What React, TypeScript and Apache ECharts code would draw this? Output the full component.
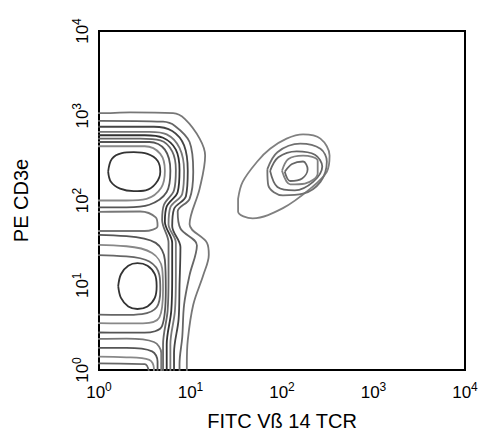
import React, { useEffect, useRef } from "react";
import * as echarts from "echarts";

const FONT = "'Liberation Sans', Arial, Helvetica, sans-serif";

// axis decades (log10 units)
const xDecades = [0, 1, 2, 3, 4];
const yDecades = [0, 1, 2, 3, 4];
const xTitle = "FITC Vß 14 TCR";
const yTitle = "PE CD3e";

// contour lines, points in [log10 FITC, log10 PE]
const L1 = [[-0.4,-0.2],[0.96,-0.2],[0.96,0.07],[0.97,0.35],[1.03,0.77],[1.14,1.12],[1.2,1.36],[1.18,1.5],[0.99,1.72],[1.10,2.14],[1.16,2.53],[1.10,2.73],[0.94,2.96],[0.81,3.03],[0.34,3.04],[0.01,3.03],[-0.4,3.03]];
const L2 = [[-0.4,-0.2],[0.88,-0.2],[0.88,0.07],[0.91,0.39],[0.93,0.77],[0.99,1.12],[1.07,1.47],[0.89,1.67],[0.86,1.87],[0.99,2.02],[1.03,2.34],[0.99,2.69],[0.83,2.88],[0.70,2.93],[0.01,2.94],[-0.4,2.94]];
const L3 = [[-0.4,-0.2],[0.82,-0.2],[0.82,0.2],[0.87,0.6],[0.88,1.0],[0.89,1.45],[0.80,1.70],[0.82,1.90],[0.95,2.05],[0.97,2.35],[0.93,2.65],[0.80,2.82],[0.60,2.87],[-0.4,2.87]];
const L4 = [[-0.4,-0.2],[0.78,-0.2],[0.78,0.3],[0.83,0.7],[0.84,1.1],[0.84,1.5],[0.76,1.72],[0.78,1.92],[0.91,2.08],[0.93,2.35],[0.88,2.62],[0.74,2.78],[0.55,2.81],[-0.4,2.81]];
const L5 = [[-0.4,-0.2],[0.74,-0.2],[0.74,0.3],[0.79,0.7],[0.80,1.1],[0.80,1.5],[0.72,1.75],[0.74,1.93],[0.86,2.1],[0.88,2.36],[0.84,2.6],[0.70,2.74],[0.50,2.77],[-0.4,2.77]];
const L6 = [[-0.4,-0.2],[0.70,-0.2],[0.70,0.3],[0.75,0.7],[0.76,1.1],[0.76,1.5],[0.69,1.77],[0.71,1.95],[0.82,2.12],[0.84,2.36],[0.80,2.58],[0.67,2.71],[0.45,2.73],[-0.4,2.73]];
const A1 = [[-0.4,2.69],[0.55,2.69],[0.72,2.6],[0.78,2.35],[0.74,2.1],[0.55,1.95],[0.3,1.92],[-0.4,1.92]];
const A2 = [[-0.4,2.64],[0.5,2.64],[0.67,2.55],[0.72,2.35],[0.68,2.15],[0.52,2.02],[0.3,2.0],[-0.4,2.0]];
const A3 = [[0.10,2.34],[0.14,2.49],[0.25,2.56],[0.38,2.57],[0.53,2.55],[0.64,2.47],[0.67,2.34],[0.62,2.20],[0.51,2.12],[0.38,2.11],[0.23,2.14],[0.13,2.22],[0.10,2.34]];
const M1 = [[-0.4,1.86],[0.45,1.87],[0.62,1.8],[0.64,1.7],[0.5,1.64],[-0.4,1.64]];
const B1 = [[-0.4,1.60],[0.3,1.58],[0.62,1.50],[0.72,1.3],[0.73,0.95],[0.69,0.52],[0.5,0.44],[0.25,0.44],[-0.4,0.45]];
const B2 = [[-0.4,1.48],[0.3,1.46],[0.58,1.38],[0.69,1.2],[0.70,0.95],[0.66,0.62],[0.48,0.55],[0.25,0.55],[-0.4,0.56]];
const B3 = [[-0.4,1.36],[0.3,1.34],[0.55,1.28],[0.66,1.12],[0.67,0.95],[0.63,0.74],[0.47,0.66],[0.25,0.65],[-0.4,0.66]];
const B4 = [[0.21,0.99],[0.24,1.13],[0.32,1.23],[0.42,1.26],[0.53,1.23],[0.61,1.13],[0.63,0.99],[0.61,0.85],[0.53,0.75],[0.42,0.72],[0.32,0.75],[0.24,0.85],[0.21,0.99]];
const C1 = [[-0.4,0.36],[0.3,0.37],[0.6,0.33],[0.68,0.2],[0.68,-0.2],[-0.4,-0.2]];
const C2 = [[-0.4,0.26],[0.3,0.26],[0.58,0.22],[0.64,0.1],[0.64,-0.2],[-0.4,-0.2]];
const C3 = [[-0.4,0.16],[0.3,0.15],[0.55,0.12],[0.6,0.02],[0.6,-0.2],[-0.4,-0.2]];
const C4 = [[-0.4,0.08],[0.5,0.07],[0.56,-0.2],[-0.4,-0.2]];
const R1 = [[1.52,2.02],[1.57,2.22],[1.73,2.46],[1.87,2.61],[2.05,2.73],[2.23,2.78],[2.42,2.73],[2.52,2.53],[2.49,2.34],[2.31,2.14],[2.01,1.91],[1.68,1.79],[1.52,1.87],[1.52,2.02]];
const R2 = [[1.84,2.37],[1.95,2.57],[2.20,2.67],[2.42,2.61],[2.49,2.46],[2.42,2.22],[2.23,2.08],[2.01,2.06],[1.85,2.18],[1.84,2.37]];
const R3 = [[1.87,2.35],[1.96,2.51],[2.16,2.58],[2.36,2.54],[2.44,2.40],[2.34,2.22],[2.14,2.12],[1.95,2.16],[1.87,2.35]];
const R4 = [[2.0,2.35],[2.07,2.49],[2.23,2.53],[2.39,2.47],[2.39,2.32],[2.25,2.20],[2.09,2.19],[2.0,2.35]];
const R5 = [[2.03,2.34],[2.11,2.43],[2.23,2.46],[2.28,2.37],[2.22,2.26],[2.09,2.23],[2.03,2.34]];

const contours: [number[][], string][] = [
  [L1, "#777"], [L2, "#666"], [L3, "#444"], [L4, "#777"], [L5, "#333"], [L6, "#666"],
  [A1, "#555"], [A2, "#888"], [A3, "#333"], [M1, "#777"],
  [B1, "#555"], [B2, "#888"], [B3, "#666"], [B4, "#333"],
  [C1, "#777"], [C2, "#555"], [C3, "#888"], [C4, "#666"],
  [R1, "#808080"], [R2, "#707070"], [R3, "#666"], [R4, "#808080"], [R5, "#666"],
];

export default function App() {
  const ref = useRef<HTMLDivElement>(null);
  useEffect(() => {
    if (!ref.current) return;
    const chart = echarts.init(ref.current, undefined, { renderer: "svg" });
    const rich = {
      b: { fontSize: 17, fontFamily: FONT, color: "#000", lineHeight: 22 },
      s: { fontSize: 12, fontFamily: FONT, color: "#000", lineHeight: 12, verticalAlign: "top" },
    };
    const fmt = (v: number) => `{b|10}{s|${Math.round(v)}}`;
    chart.setOption({
      animation: false,
      backgroundColor: "#fff",
      grid: { left: 99, right: 19, top: 31, bottom: 63, show: true, borderColor: "#000", borderWidth: 2, backgroundColor: "transparent" },
      xAxis: {
        type: "value", min: xDecades[0], max: xDecades[xDecades.length - 1], interval: 1,
        axisLine: { show: false }, axisTick: { show: false }, splitLine: { show: false },
        axisLabel: { formatter: fmt, margin: 11, fontSize: 17, fontFamily: FONT, rich, showMinLabel: true, showMaxLabel: true },
        name: xTitle, nameLocation: "middle", nameGap: 41,
        nameTextStyle: { fontSize: 20, fontFamily: FONT, color: "#000" },
      },
      yAxis: {
        type: "value", min: yDecades[0], max: yDecades[yDecades.length - 1], interval: 1,
        axisLine: { show: false }, axisTick: { show: false }, splitLine: { show: false },
        axisLabel: { formatter: fmt, margin: 6, rotate: 90, fontSize: 17, fontFamily: FONT, rich, showMinLabel: true, showMaxLabel: true },
        name: yTitle, nameLocation: "middle", nameGap: 68,
        nameTextStyle: { fontSize: 20, fontFamily: FONT, color: "#000" },
      },
      series: contours.map(([d, c]) => ({
        type: "line", data: d, symbol: "none", smooth: 0.35, clip: true,
        lineStyle: { color: c, width: 1.8 }, silent: true,
      })),
    });
    return () => chart.dispose();
  }, []);
  return <div ref={ref} style={{ position: "fixed", left: 0, top: 0, width: 484, height: 436 }} />;
}
